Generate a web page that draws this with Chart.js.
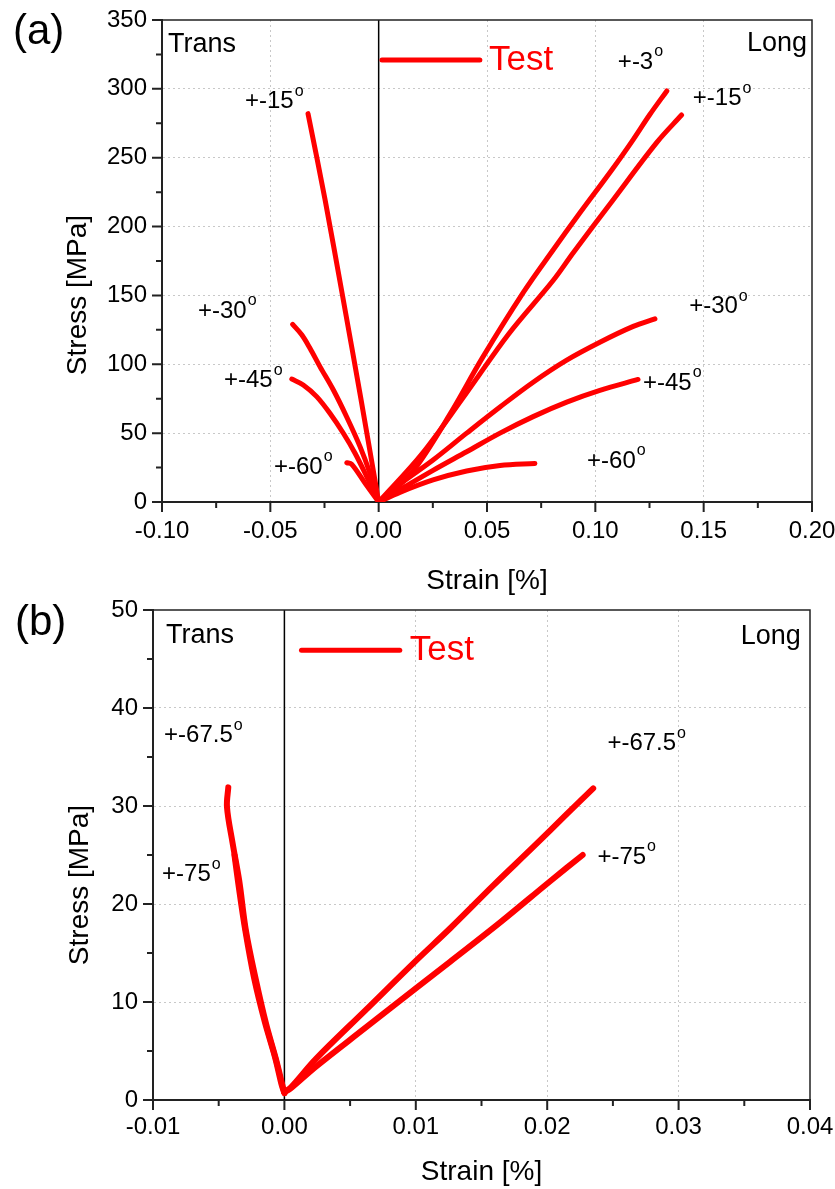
<!DOCTYPE html>
<html>
<head>
<meta charset="utf-8">
<script src="https://cdn.jsdelivr.net/npm/chart.js@4.4.0/dist/chart.umd.min.js"></script>
<style>
  html, body { margin: 0; padding: 0; background: #fff; }
  #wrapA { position: absolute; left: 0; top: 0; width: 835px; height: 600px; }
  #wrapB { position: absolute; left: 0; top: 600px; width: 835px; height: 589px; }
</style>
</head>
<body>
<div id="wrapA"><canvas id="chartA"></canvas></div>
<div id="wrapB"><canvas id="chartB"></canvas></div>
<script>
// --- panel (a): strain [%] vs stress [MPa]
const aTrans15X = [0, -0.0082, -0.0167, -0.0248, -0.0326];
const aTrans15Y = [0, 75, 150, 220, 282];
const aTrans30X = [0, -0.004, -0.0086, -0.0148, -0.0209, -0.0271, -0.0317, -0.0355, -0.0397];
const aTrans30Y = [0, 20.8, 40.2, 61.9, 81.3, 98.3, 111.6, 121.4, 129];
const aTrans45X = [0, -0.0055, -0.0109, -0.0163, -0.0225, -0.0286, -0.0348, -0.0401];
const aTrans45Y = [0, 18.4, 35.4, 49.9, 64.4, 76.5, 85, 89.3];
const aTrans60X = [0, -0.006, -0.0125, -0.0147];
const aTrans60Y = [0, 13, 27.5, 28.5];
const aLong3X = [0, 0.008, 0.0176, 0.033, 0.048, 0.0667, 0.0805, 0.0929, 0.108, 0.1174, 0.125, 0.133];
const aLong3Y = [0, 10, 26, 64, 105, 152, 183, 210, 242, 263, 281, 298.5];
const aLong15X = [0, 0.02, 0.04, 0.06, 0.0806, 0.0898, 0.108, 0.1283, 0.1398];
const aLong15Y = [0, 35, 78, 122, 161, 181, 219, 261, 281];
const aLong30X = [0, 0.0098, 0.0251, 0.0406, 0.056, 0.0713, 0.0868, 0.1021, 0.1175, 0.1275];
const aLong30Y = [0, 13, 30.5, 50, 69, 87, 103, 116, 127.5, 133];
const aLong45X = [0, 0.0098, 0.0251, 0.0406, 0.056, 0.0713, 0.0868, 0.1021, 0.1197];
const aLong45Y = [0, 9, 23, 36.5, 50, 62, 72.5, 81, 89];
const aLong60X = [0, 0.0098, 0.0251, 0.0406, 0.056, 0.0721];
const aLong60Y = [0, 7, 16, 22.5, 26.5, 28];

const aXTicks = [-0.10, -0.05, 0.00, 0.05, 0.10, 0.15, 0.20];
const aYTicks = [0, 50, 100, 150, 200, 250, 300, 350];
const aLabels = ['+-15', '+-30', '+-45', '+-60', '+-3', '+-15', '+-30', '+-45', '+-60'];
const aLabelPos = [[-0.0617, 291], [-0.0834, 138.7], [-0.0714, 88], [-0.0483, 25.4],
                   [0.1104, 319.5], [0.145, 293], [0.1433, 142], [0.122, 86.4], [0.0962, 29.8]];

// --- panel (b)
const bTrans675X = [0, -0.00013, -0.00063, -0.0014, -0.00216, -0.00293, -0.00344, -0.00394, -0.00437, -0.00427];
const bTrans675Y = [0.7, 1.4, 4.1, 7.8, 12.2, 17.3, 22.4, 26.2, 29.9, 31.9];
const bTrans75X = [0, -0.0002, -0.0007, -0.0015, -0.0023, -0.003, -0.0035, -0.0038];
const bTrans75Y = [0.7, 1.5, 4.3, 8, 12.4, 17.5, 22, 25];
const bLong675X = [0, 0.0005, 0.0024, 0.0062, 0.01, 0.0126, 0.0159, 0.019, 0.0215, 0.0235];
const bLong675Y = [0.8, 1.3, 4.2, 9.2, 14.2, 17.5, 21.9, 25.9, 29.2, 31.8];
const bLong75X = [0, 0.0005, 0.0024, 0.0062, 0.01, 0.0126, 0.0164, 0.0202, 0.0227];
const bLong75Y = [0.8, 1.2, 3.4, 7.4, 11.4, 14.1, 18.1, 22.3, 25];

const bXTicks = [-0.01, 0.00, 0.01, 0.02, 0.03, 0.04];
const bYTicks = [0, 10, 20, 30, 40, 50];
const bLabels = ['+-67.5', '+-75', '+-67.5', '+-75'];
const bLabelPos = [[-0.00916, 37.2], [-0.00931, 23], [0.02458, 36.4], [0.02382, 24.8]];

const FONT = '"Liberation Sans", Arial, Helvetica, sans-serif';
const RED = '#ff0000';
Chart.defaults.font.family = FONT;
Chart.defaults.color = '#000';

function pts(xs, ys) {
  return xs.map((x, i) => ({ x: x, y: ys[i] }));
}

function near(a, b) { return Math.abs(a - b) < 1e-9; }

// axes decorations, frame, annotations
function decoPlugin(p) {
  return {
    id: 'deco',
    beforeDatasetsDraw(chart) {
      const { ctx, chartArea: a, scales: { x } } = chart;
      const x0 = x.getPixelForValue(0);
      ctx.save();
      ctx.strokeStyle = '#000';
      ctx.lineWidth = 1.5;
      ctx.beginPath();
      ctx.moveTo(x0, a.top);
      ctx.lineTo(x0, a.bottom);
      ctx.stroke();
      ctx.restore();
    },
    afterDraw(chart) {
      const { ctx, chartArea: a, scales: { x, y } } = chart;
      ctx.save();
      // frame top + right
      ctx.strokeStyle = '#222';
      ctx.lineWidth = 1.5;
      ctx.beginPath();
      ctx.moveTo(a.left, a.top);
      ctx.lineTo(a.right, a.top);
      ctx.lineTo(a.right, a.bottom);
      ctx.stroke();

      // major/minor ticks outward
      ctx.lineWidth = 2;
      ctx.beginPath();
      p.yTicks.forEach((v, i) => {
        const py = y.getPixelForValue(v);
        ctx.moveTo(a.left, py); ctx.lineTo(a.left - 10, py);
        if (i < p.yTicks.length - 1) {
          const pm = y.getPixelForValue((v + p.yTicks[i + 1]) / 2);
          ctx.moveTo(a.left, pm); ctx.lineTo(a.left - 6, pm);
        }
      });
      p.xTicks.forEach((v, i) => {
        const px = x.getPixelForValue(v);
        ctx.moveTo(px, a.bottom); ctx.lineTo(px, a.bottom + 10);
        if (i < p.xTicks.length - 1) {
          const pm = x.getPixelForValue((v + p.xTicks[i + 1]) / 2);
          ctx.moveTo(pm, a.bottom); ctx.lineTo(pm, a.bottom + 6);
        }
      });
      ctx.stroke();

      // axis titles
      ctx.fillStyle = '#000';
      ctx.font = '28px ' + FONT;
      ctx.textAlign = 'center';
      ctx.textBaseline = 'middle';
      ctx.fillText('Strain [%]', (a.left + a.right) / 2, p.xTitleY);
      ctx.save();
      ctx.translate(p.yTitleX, (a.top + a.bottom) / 2 + p.yTitleShift);
      ctx.rotate(-Math.PI / 2);
      ctx.fillText('Stress [MPa]', 0, 0);
      ctx.restore();

      // panel letter
      ctx.font = '42px ' + FONT;
      ctx.textAlign = 'left';
      ctx.fillText(p.letter, p.letterX, p.letterY);

      // Trans / Long
      ctx.font = '27px ' + FONT;
      ctx.fillText('Trans', x.getPixelForValue(p.transPos[0]), y.getPixelForValue(p.transPos[1]));
      ctx.textAlign = 'right';
      ctx.fillText('Long', x.getPixelForValue(p.longPos[0]), y.getPixelForValue(p.longPos[1]));

      // legend
      const ly = y.getPixelForValue(p.legendY);
      ctx.strokeStyle = RED;
      ctx.lineWidth = 5;
      ctx.lineCap = 'round';
      ctx.beginPath();
      ctx.moveTo(x.getPixelForValue(p.legendX[0]), ly);
      ctx.lineTo(x.getPixelForValue(p.legendX[1]), ly);
      ctx.stroke();
      ctx.fillStyle = RED;
      ctx.textAlign = 'left';
      ctx.font = '35px ' + FONT;
      ctx.fillText('Test', x.getPixelForValue(p.legendX[2]), ly);

      // angle labels with superscript o
      ctx.fillStyle = '#000';
      p.labels.forEach((t, i) => {
        const px = x.getPixelForValue(p.labelPos[i][0]);
        const py = y.getPixelForValue(p.labelPos[i][1]);
        ctx.font = '24px ' + FONT;
        ctx.fillText(t, px, py);
        const w = ctx.measureText(t).width;
        ctx.font = '16px ' + FONT;
        ctx.fillText('o', px + w + 1, py - 10);
      });
      ctx.restore();
    }
  };
}

function makePanel(id, p) {
  const gridColor = (ctx, lo, hi) => {
    const v = ctx.tick ? ctx.tick.value : null;
    if (v === null || near(v, lo) || near(v, hi) || near(v, 0)) return 'rgba(0,0,0,0)';
    return '#c8c8c8';
  };
  return new Chart(document.getElementById(id), {
    type: 'line',
    data: {
      datasets: p.series.map(s => ({
        data: pts(s[0], s[1]),
        borderColor: RED,
        borderWidth: p.lineWidth,
        pointRadius: 0,
        tension: 0.35,
        fill: false,
        borderCapStyle: 'round',
        borderJoinStyle: 'round'
      }))
    },
    options: {
      responsive: true,
      maintainAspectRatio: false,
      animation: false,
      layout: { padding: { top: p.top, right: p.right, left: 0, bottom: 0 } },
      plugins: { legend: { display: false }, tooltip: { enabled: false } },
      scales: {
        x: {
          type: 'linear',
          min: p.xTicks[0],
          max: p.xTicks[p.xTicks.length - 1],
          afterBuildTicks: sc => { sc.ticks = p.xTicks.map(v => ({ value: v })); },
          afterFit: sc => { sc.height = p.xAxisH; sc.paddingLeft = 0; sc.paddingRight = 0; },
          ticks: {
            font: { size: 24 },
            padding: p.xTickPad,
            autoSkip: false,
            maxRotation: 0,
            callback: v => Number(v).toFixed(2)
          },
          grid: {
            drawTicks: false,
            color: ctx => gridColor(ctx, p.xTicks[0], p.xTicks[p.xTicks.length - 1]),
            lineWidth: 1
          },
          border: { display: true, color: '#222', width: 2, dash: [2, 3] }
        },
        y: {
          type: 'linear',
          min: p.yTicks[0],
          max: p.yTicks[p.yTicks.length - 1],
          afterBuildTicks: sc => { sc.ticks = p.yTicks.map(v => ({ value: v })); },
          afterFit: sc => { sc.width = p.yAxisW; sc.paddingTop = 0; sc.paddingBottom = 0; },
          ticks: {
            font: { size: 24 },
            padding: 15,
            autoSkip: false,
            callback: v => String(v)
          },
          grid: {
            drawTicks: false,
            color: ctx => gridColor(ctx, p.yTicks[0], p.yTicks[p.yTicks.length - 1]),
            lineWidth: 1
          },
          border: { display: true, color: '#222', width: 2, dash: [2, 3] }
        }
      }
    },
    plugins: [decoPlugin(p)]
  });
}

makePanel('chartA', {
  series: [[aTrans15X, aTrans15Y], [aTrans30X, aTrans30Y], [aTrans45X, aTrans45Y], [aTrans60X, aTrans60Y],
           [aLong3X, aLong3Y], [aLong15X, aLong15Y], [aLong30X, aLong30Y], [aLong45X, aLong45Y], [aLong60X, aLong60Y]],
  xTicks: aXTicks, yTicks: aYTicks,
  labels: aLabels, labelPos: aLabelPos,
  lineWidth: 5,
  top: 20, right: 23, yAxisW: 162, xAxisH: 98, xTickPad: 15,
  xTitleY: 581, yTitleX: 78, yTitleShift: 34,
  letter: '(a)', letterX: 13, letterY: 32,
  transPos: [-0.0972, 332], longPos: [0.1977, 333],
  legendX: [0.0015, 0.0467, 0.0509], legendY: 321
});

makePanel('chartB', {
  series: [[bTrans675X, bTrans675Y], [bTrans75X, bTrans75Y], [bLong675X, bLong675Y], [bLong75X, bLong75Y]],
  xTicks: bXTicks, yTicks: bYTicks,
  labels: bLabels, labelPos: bLabelPos,
  lineWidth: 6,
  top: 10, right: 25, yAxisW: 153, xAxisH: 89, xTickPad: 13,
  xTitleY: 572, yTitleX: 80, yTitleShift: 30,
  letter: '(b)', letterX: 15, letterY: 23,
  transPos: [-0.00901, 47.4], longPos: [0.0393, 47.3],
  legendX: [0.0013, 0.00878, 0.00954], legendY: 45.9
});
</script>
</body>
</html>
